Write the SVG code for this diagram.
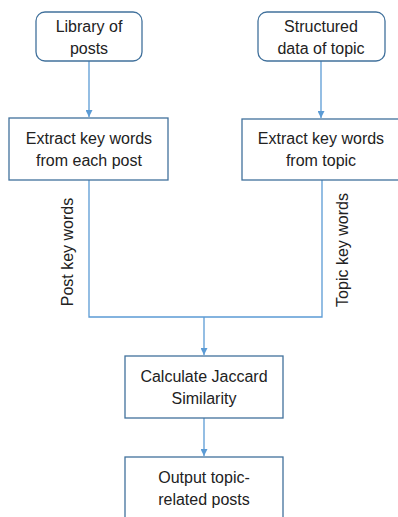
<svg xmlns="http://www.w3.org/2000/svg" width="398" height="517" viewBox="0 0 398 517">
<defs>
<style>
.box{fill:#fff;stroke:#41719C;stroke-width:1.3}
.t{font-family:"Liberation Sans",Arial,sans-serif;font-size:16px;fill:#222;text-anchor:middle;dominant-baseline:central}
.c{fill:none;stroke:#5B9BD5;stroke-width:1.3}
</style>
<marker id="ah" viewBox="0 0 10 10" refX="10" refY="5" markerWidth="7" markerHeight="7" markerUnits="userSpaceOnUse" orient="auto">
<path d="M0,0 L10,5 L0,10 z" fill="#5B9BD5"/>
</marker>
</defs>
<rect width="398" height="517" fill="#fff"/>
<g id="connectors">
<path class="c" d="M89,61 V117" marker-end="url(#ah)"/>
<path class="c" d="M321,61 V118" marker-end="url(#ah)"/>
<path class="c" d="M89,180 V317 H322 V180"/>
<path class="c" d="M204,317 V355" marker-end="url(#ah)"/>
<path class="c" d="M204,418 V456" marker-end="url(#ah)"/>
<text class="t" transform="translate(67,252) rotate(-90)">Post key words</text>
<text class="t" transform="translate(342,250) rotate(-90)">Topic key words</text>
</g>
<g id="library">
<rect class="box" x="36" y="12" width="106" height="49" rx="9"/>
<text class="t" x="89" y="26">Library of</text>
<text class="t" x="89" y="48">posts</text>
</g>
<g id="structured">
<rect class="box" x="258" y="12" width="127" height="49" rx="9"/>
<text class="t" x="321" y="26">Structured</text>
<text class="t" x="321" y="48">data of topic</text>
</g>
<g id="extract-post">
<rect class="box" x="9" y="118" width="159" height="62"/>
<text class="t" x="89" y="138">Extract key words</text>
<text class="t" x="89" y="160">from each post</text>
</g>
<g id="extract-topic">
<rect class="box" x="242" y="119" width="160" height="61"/>
<text class="t" x="321" y="138">Extract key words</text>
<text class="t" x="321" y="160">from topic</text>
</g>
<g id="jaccard">
<rect class="box" x="125" y="356" width="158" height="62"/>
<text class="t" x="204" y="376">Calculate Jaccard</text>
<text class="t" x="204" y="398">Similarity</text>
</g>
<g id="output">
<rect class="box" x="125" y="457" width="158" height="70"/>
<text class="t" x="204" y="477">Output topic-</text>
<text class="t" x="204" y="499">related posts</text>
</g>
</svg>
